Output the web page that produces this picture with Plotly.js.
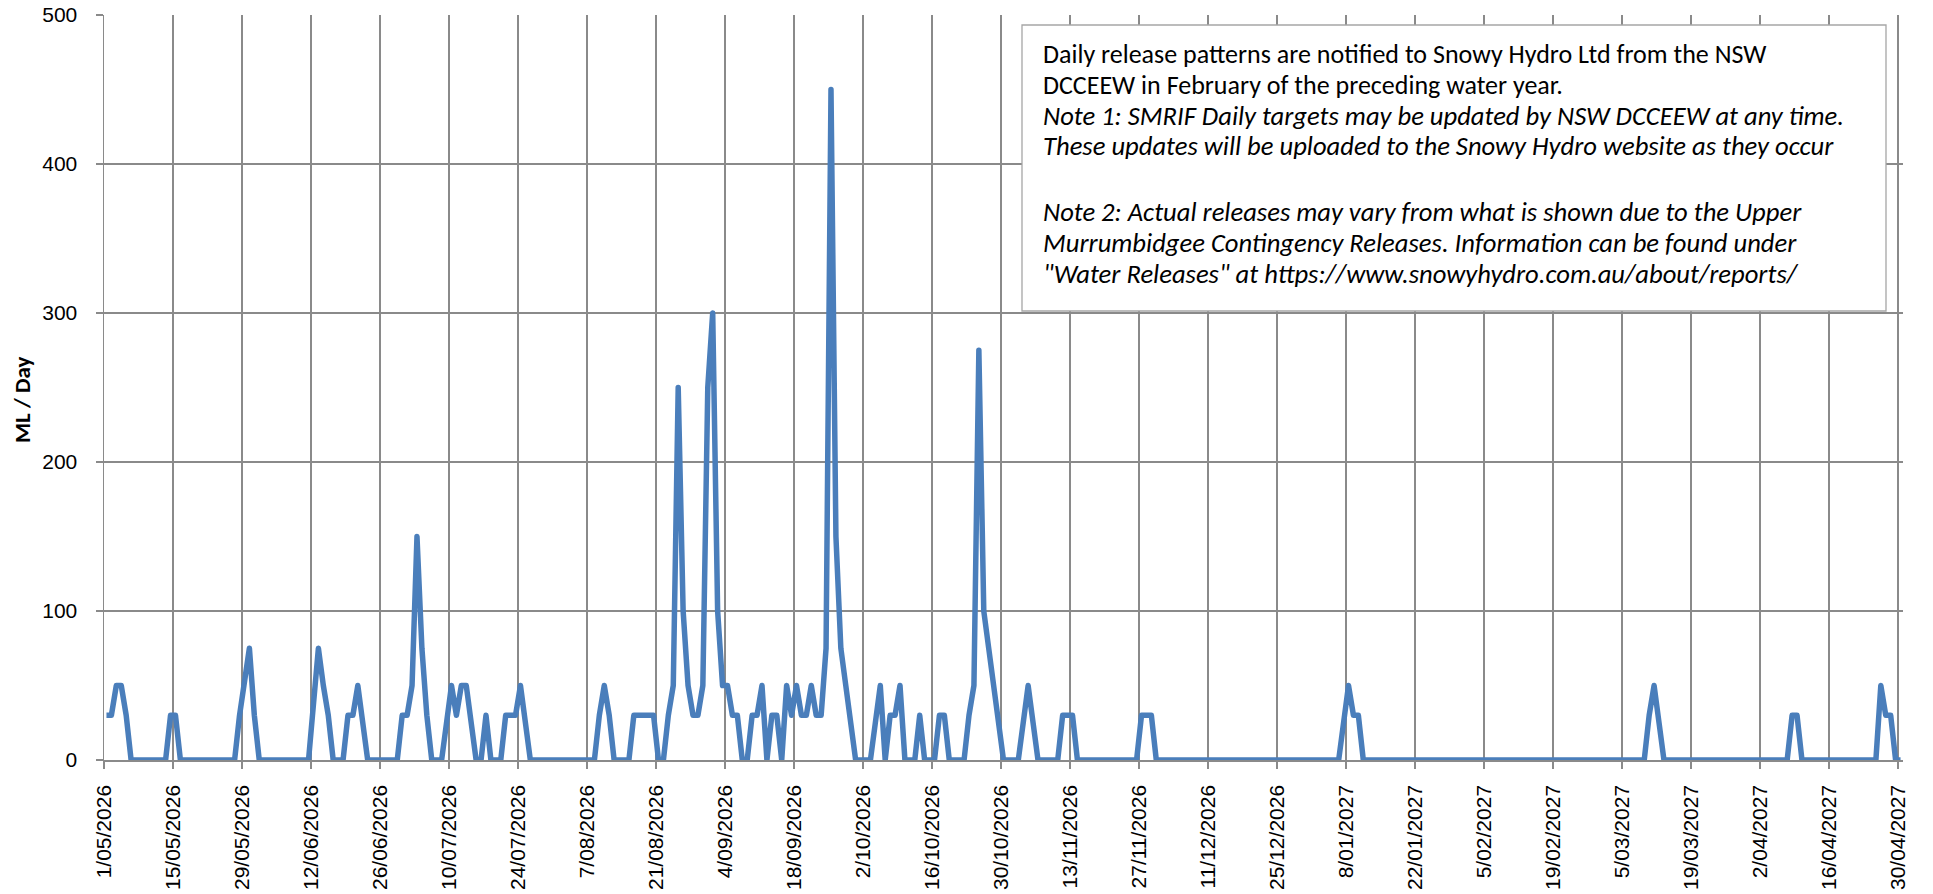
<!DOCTYPE html>
<html>
<head>
<meta charset="utf-8">
<script src="https://cdn.plot.ly/plotly-3.0.1.min.js"></script>
<style>
html,body{margin:0;padding:0;background:#ffffff;}
#chart{width:1933px;height:894px;}
path.js-line{stroke-linejoin:round;}
</style>
</head>
<body>
<div id="chart"></div>
<script>
// ---------------- DATA ----------------
const startDate = '2026-05-01';
const endDate = '2027-05-01';
const yTitle = 'ML / Day';
// Daily target release (ML/day), one value per day from 1/05/2026 to 30/04/2027 (rows of 14 days)
const releaseValues = [
  30,30,50,50,30,0,0,0,0,0,0,0,0,30,
  30,0,0,0,0,0,0,0,0,0,0,0,0,30,
  50,75,30,0,0,0,0,0,0,0,0,0,0,0,
  37.5,75,50,30,0,0,0,30,30,50,25,0,0,0,
  0,0,0,0,30,30,50,150,75,30,0,0,0,25,
  50,30,50,50,25,0,0,30,0,0,0,30,30,30,
  50,25,0,0,0,0,0,0,0,0,0,0,0,0,
  0,0,30,50,30,0,0,0,0,30,30,30,30,30,
  0,0,30,50,250,100,50,30,30,50,250,300,100,50,
  50,30,30,0,0,30,30,50,0,30,30,0,50,30,
  50,30,30,50,30,30,75,450,150,75,50,25,0,0,
  0,0,25,50,0,30,30,50,0,0,0,30,0,0,
  0,30,30,0,0,0,0,30,50,275,100,75,50,30,
  0,0,0,0,25,50,25,0,0,0,0,0,30,30,
  30,0,0,0,0,0,0,0,0,0,0,0,0,0,
  30,30,30,0,0,0,0,0,0,0,0,0,0,0,
  0,0,0,0,0,0,0,0,0,0,0,0,0,0,
  0,0,0,0,0,0,0,0,0,0,0,0,0,25,
  50,30,30,0,0,0,0,0,0,0,0,0,0,0,
  0,0,0,0,0,0,0,0,0,0,0,0,0,0,
  0,0,0,0,0,0,0,0,0,0,0,0,0,0,
  0,0,0,0,0,0,0,0,0,0,0,0,0,0,
  0,0,0,0,0,30,50,25,0,0,0,0,0,0,
  0,0,0,0,0,0,0,0,0,0,0,0,0,0,
  0,0,0,0,0,0,30,30,0,0,0,0,0,0,
  0,0,0,0,0,0,0,0,0,0,50,30,30,0,
  0
];
const noteLines = [
  'Daily release patterns are notified to Snowy Hydro Ltd from the NSW',
  'DCCEEW in February of the preceding water year.',
  '<i>Note 1: SMRIF Daily targets may be updated by NSW DCCEEW at any time.</i>',
  '<i>These updates will be uploaded to the Snowy Hydro website as they occur</i>',
  '',
  '<i>Note 2: Actual releases may vary from what is shown due to the Upper</i>',
  '<i>Murrumbidgee Contingency Releases. Information can be found under</i>',
  '<i>"Water Releases" at https://www.snowyhydro.com.au/about/reports/</i>'
];

// one date per value (each day plotted at mid-day)
const releaseDates = [];
(function(){
  const t0 = Date.UTC(2026, 4, 1, 12);
  for (let i = 0; i < releaseValues.length; i++) {
    const d = new Date(t0 + i * 86400000);
    const s = d.getUTCFullYear() + '-' + String(d.getUTCMonth()+1).padStart(2,'0') + '-' +
              String(d.getUTCDate()).padStart(2,'0') + ' 12:00';
    releaseDates.push(s);
  }
})();

// ---------------- LAYOUT ----------------
const W = 1933, H = 894;
const M = {l:104, r:30, t:15, b:134};
const PW = W - M.l - M.r, PH = H - M.t - M.b;
const px = x => (x - M.l) / PW;
const py = y => (H - M.b - y) / PH;

const GRID = '#8a8a8a';
const TEXTFONT = 'Carlito, Lato, "Open Sans", sans-serif';
const TICKFONT = {family:'"Liberation Sans", Arial, sans-serif', size:21, color:'#000000'};

const annotations = [{
  xref:'paper', yref:'paper', x:px(22), y:py(400), xanchor:'center', yanchor:'middle',
  text:'<b>' + yTitle + '</b>', textangle:-90, showarrow:false,
  font:{family:TEXTFONT, size:23, color:'#000000'}
}];
const lineY = [54, 84.7, 116, 146, 179, 212, 242.7, 274];
noteLines.forEach((t, i) => {
  if (!t) return;
  const italic = t.indexOf('<i>') === 0;
  annotations.push({
    xref:'paper', yref:'paper', x:px(1041), y:py(lineY[i]), xanchor:'left', yanchor:'middle',
    text:t, showarrow:false, align:'left',
    font:{family:TEXTFONT, size:italic ? 26.6 : 26, color:'#000000'}
  });
});

const layout = {
  width:W, height:H, margin:M,
  paper_bgcolor:'#ffffff', plot_bgcolor:'#ffffff', showlegend:false,
  xaxis:{
    type:'date', range:[startDate, endDate], tickmode:'linear', tick0:startDate,
    dtick:14*86400000, tickformat:'%-d/%m/%Y', tickangle:-90,
    ticks:'outside', ticklen:7, tickwidth:1.5, tickcolor:GRID,
    showgrid:true, gridcolor:GRID, gridwidth:1.5,
    showline:true, linecolor:GRID, linewidth:1.5, zeroline:false,
    tickfont:TICKFONT, ticklabelstandoff:8, fixedrange:true
  },
  yaxis:{
    range:[0, 500], tickmode:'linear', tick0:0, dtick:100,
    ticks:'outside', ticklen:7, tickwidth:1.5, tickcolor:GRID,
    showgrid:true, gridcolor:GRID, gridwidth:1.5,
    showline:true, linecolor:GRID, linewidth:1.5, zeroline:false,
    tickfont:TICKFONT, ticklabelstandoff:14, fixedrange:true
  },
  shapes:[{
    type:'rect', xref:'paper', yref:'paper', layer:'above',
    x0:px(1022), x1:px(1886), y0:py(311), y1:py(25),
    line:{color:'#a6a6a6', width:1.3}, fillcolor:'#ffffff'
  }],
  annotations:annotations
};

const traces = [{
  type:'scatter', mode:'lines', x:releaseDates, y:releaseValues,
  line:{color:'#4A7EBB', width:5.5}, hoverinfo:'skip', cliponaxis:false
}];

Plotly.newPlot('chart', traces, layout, {staticPlot:true, displayModeBar:false});
</script>
</body>
</html>
